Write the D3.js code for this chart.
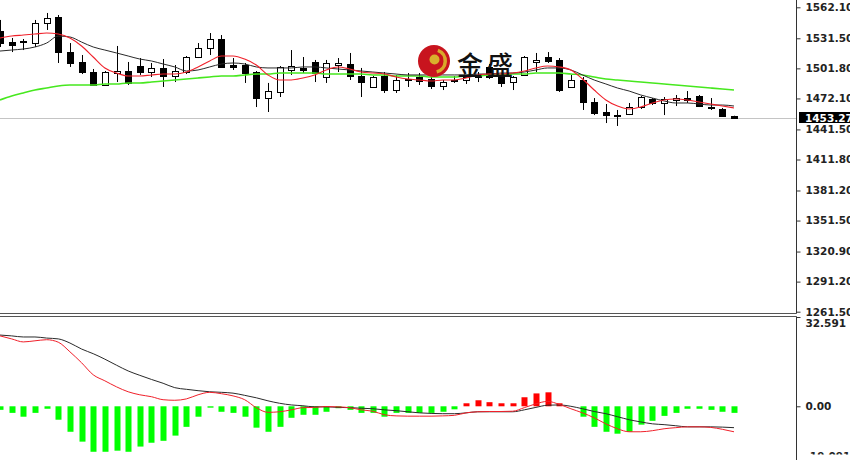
<!DOCTYPE html>
<html><head><meta charset="utf-8">
<script src="https://cdn.jsdelivr.net/npm/d3@7"></script>
<style>html,body{margin:0;padding:0;background:#fff;overflow:hidden}svg{display:block}</style>
</head><body>
<svg id="chart" width="850" height="460"></svg>
<script>
// ---- price candles (bar index 0..63) ----
const openP = [1538.7,1527.8,1527.8,1526.8,1546.6,1552.5,1517.9,1508.1,1498.2,1485.4,1497.2,1499.2,1504.1,1498.2,1502.2,1494.3,1498.2,1513.0,1521.9,1530.8,1505.1,1505.1,1498.2,1472.5,1478.5,1500.2,1502.2,1508.1,1493.3,1505.1,1506.1,1494.3,1483.4,1494.3,1480.4,1490.3,1493.3,1491.3,1484.4,1489.3,1490.3,1493.3,1503.2,1493.3,1488.3,1495.3,1508.1,1513.0,1510.1,1483.4,1490.3,1468.6,1458.7,1455.7,1456.7,1463.6,1471.5,1467.6,1470.6,1472.5,1474.5,1463.6,1461.7,1454.8];
const highP = [1549.6,1531.8,1530.8,1549.6,1556.5,1554.5,1526.8,1515.0,1501.2,1499.2,1523.9,1508.1,1512.0,1507.1,1511.0,1505.1,1514.0,1526.8,1536.7,1534.7,1512.0,1507.1,1499.2,1487.4,1504.1,1519.9,1513.0,1510.1,1510.1,1512.0,1517.0,1502.2,1494.3,1498.2,1495.3,1497.2,1497.2,1493.3,1490.3,1494.3,1495.3,1498.2,1506.1,1497.2,1494.3,1514.0,1517.0,1517.9,1512.0,1495.3,1493.3,1472.5,1466.6,1460.7,1467.6,1474.5,1472.5,1473.5,1475.5,1479.4,1475.5,1472.5,1462.7,1455.0];
const lowP = [1522.9,1517.9,1519.9,1522.9,1539.7,1507.1,1503.2,1496.2,1484.4,1484.4,1488.3,1485.4,1495.3,1493.3,1483.4,1488.3,1496.2,1512.0,1515.0,1502.2,1500.2,1487.4,1463.6,1458.7,1473.5,1495.3,1497.2,1488.3,1487.4,1498.2,1490.3,1473.5,1482.4,1477.5,1477.5,1483.4,1485.4,1481.4,1480.4,1487.4,1486.4,1488.3,1491.3,1483.4,1480.4,1494.3,1498.2,1507.1,1478.5,1482.4,1460.7,1455.7,1447.8,1444.9,1455.7,1461.7,1465.6,1455.7,1464.6,1467.6,1463.6,1460.7,1453.8,1452.8];
const closeP = [1526.8,1524.9,1528.8,1546.6,1551.5,1517.9,1507.1,1498.2,1485.4,1498.2,1499.2,1487.4,1498.2,1502.2,1494.3,1499.2,1513.0,1521.9,1530.8,1503.2,1503.2,1497.2,1472.5,1479.4,1503.2,1504.1,1500.2,1497.2,1507.1,1507.1,1494.3,1488.3,1493.3,1480.4,1490.3,1491.3,1489.3,1484.4,1488.3,1490.3,1493.3,1495.3,1493.3,1487.4,1493.3,1513.0,1510.1,1509.1,1480.4,1490.3,1468.6,1457.7,1455.7,1454.8,1463.6,1473.5,1467.6,1471.5,1472.5,1470.6,1464.6,1462.7,1454.8,1453.27];

// ---- moving averages ----
const maFast = [1531.8,1533.7,1534.7,1535.7,1536.7,1535.7,1531.8,1523.9,1513.0,1502.2,1497.2,1494.3,1494.3,1495.3,1496.2,1496.2,1498.2,1503.2,1509.1,1514.0,1514.0,1511.0,1505.1,1495.3,1490.3,1490.3,1492.3,1495.3,1500.2,1503.2,1501.2,1498.2,1497.2,1496.2,1493.3,1491.3,1490.3,1489.3,1490.3,1490.3,1492.3,1495.3,1496.2,1496.2,1497.2,1499.2,1502.2,1504.1,1503.2,1500.2,1491.3,1480.4,1470.6,1464.6,1461.7,1463.6,1467.6,1470.6,1471.5,1470.6,1468.6,1466.6,1464.6,1462.7];
const maMid = [1518.9,1519.9,1520.9,1522.9,1526.8,1533.7,1532.8,1527.8,1522.9,1519.9,1517.0,1514.0,1511.0,1509.1,1506.1,1503.2,1499.2,1500.2,1503.2,1506.1,1507.1,1506.1,1503.2,1502.2,1502.2,1502.2,1503.2,1503.2,1502.2,1501.2,1500.2,1499.2,1498.2,1497.2,1496.2,1495.3,1495.3,1495.3,1495.3,1495.3,1495.3,1496.2,1496.2,1497.2,1497.2,1498.2,1500.2,1502.2,1502.2,1500.2,1495.3,1490.3,1486.4,1482.4,1479.4,1475.5,1472.5,1469.6,1467.6,1467.6,1466.6,1465.6,1465.6,1464.6];
const maSlow = [1470.6,1474.5,1477.5,1480.4,1482.4,1484.4,1485.4,1485.4,1485.4,1486.4,1486.4,1487.4,1487.4,1488.3,1489.3,1490.3,1491.3,1492.3,1493.3,1494.3,1494.3,1495.3,1496.2,1496.2,1497.2,1497.2,1497.2,1497.2,1496.2,1496.2,1496.2,1496.2,1495.3,1495.3,1494.3,1494.3,1494.3,1493.3,1493.3,1493.3,1494.3,1494.3,1495.3,1495.3,1496.2,1496.2,1497.2,1497.2,1497.2,1496.2,1495.3,1493.3,1491.3,1490.3,1489.3,1488.3,1487.4,1486.4,1485.4,1484.4,1483.4,1482.4,1481.4,1480.4];

// ---- MACD panel ----
const macdHist = [-1.3,-2.4,-3.8,-2.4,-0.9,-4.9,-9.3,-12.9,-16.6,-16.6,-16.2,-16.6,-14.7,-13.3,-12.6,-10.7,-7.5,-3.8,-0.5,-2.0,-2.4,-3.8,-7.8,-9.3,-7.5,-4.2,-3.1,-3.1,-2.0,-0.7,-1.3,-2.4,-2.4,-3.8,-2.4,-2.4,-2.4,-2.4,-2.0,-1.1,1.1,2.2,1.5,1.1,1.1,3.3,4.7,5.1,1.1,0.0,-3.8,-7.5,-9.3,-10.0,-9.3,-6.7,-5.3,-3.5,-2.4,-0.9,-0.9,-1.3,-2.0,-2.4];
const macdBlack = [26.0,25.7,25.3,25.3,24.9,24.6,23.1,20.9,19.2,17.2,15.0,12.9,11.3,9.8,8.4,6.8,6.2,5.7,5.3,5.1,4.8,4.0,3.1,2.0,1.1,0.5,0.2,-0.2,-0.2,-0.4,-0.5,-0.7,-0.9,-1.3,-1.6,-2.0,-2.4,-2.6,-2.7,-2.7,-2.4,-2.0,-2.0,-2.0,-2.0,-1.3,-0.4,0.4,0.5,0.0,-0.9,-1.9,-2.7,-3.8,-4.9,-5.7,-6.4,-6.7,-7.1,-7.5,-7.5,-7.5,-7.6,-7.8];
const macdRed = [25.7,24.6,23.5,23.9,24.3,23.4,19.9,15.9,11.5,9.3,7.1,5.3,4.2,3.5,2.4,2.2,2.7,4.2,5.1,4.6,3.8,2.4,-0.5,-2.2,-2.0,-1.3,-0.5,-0.4,-0.1,-0.2,-0.5,-1.3,-1.8,-3.1,-3.5,-3.6,-3.6,-3.6,-3.5,-3.3,-2.4,-2.0,-1.9,-1.9,-1.8,-0.5,0.9,1.8,0.7,-0.9,-2.4,-4.2,-6.4,-8.2,-9.3,-9.3,-8.9,-8.2,-7.8,-7.5,-7.5,-7.7,-8.4,-9.3];

// ---- axis ticks ----
const priceTicks = [1562.10,1531.50,1501.80,1472.10,1441.50,1411.80,1381.20,1351.50,1320.90,1291.20,1261.50];
const priceTickLabels = ["1562.10","1531.50","1501.80","1472.10","1441.50","1411.80","1381.20","1351.50","1320.90","1291.20","1261.50"];
const macdTicks = [32.591, 0, -19.091];
const macdTickLabels = ["32.591","0.00","-19.091"];
const lastPriceLabel = "1453.27";
const logoText = "金盛";

const barIdx = openP.map((d,i)=>i);

const svg = d3.select('#chart');
const axisX = 796.5;
const defs = svg.append('defs');
defs.append('clipPath').attr('id','clipMain').append('rect').attr('x',0).attr('y',0).attr('width',796).attr('height',313);
defs.append('clipPath').attr('id','clipMacd').append('rect').attr('x',0).attr('y',317).attr('width',796).attr('height',143);
defs.append('clipPath').attr('id','clipMacdAxis').append('rect').attr('x',0).attr('y',300).attr('width',60).attr('height',154.5);

const x = d3.scaleLinear().domain([0, barIdx.length-1]).range([0, 734]);
const y = d3.scaleLinear().domain([1261.5, 1562.1]).range([311.7, 7.3]);
const ym = d3.scaleLinear().domain([-19.091, 32.591]).range([458.6, 317]);
const px = i => Math.round(x(i));

// ---- main panel ----
const main = svg.append('g').attr('clip-path','url(#clipMain)');
const lastY = Math.round(y(closeP[closeP.length-1]));
main.append('line').attr('x1',0).attr('x2',796).attr('y1',lastY+0.5).attr('y2',lastY+0.5)
  .attr('stroke','#c4c4c4').attr('stroke-width',1);

main.append('g').selectAll('line').data(barIdx).join('line')
  .attr('x1',i=>px(i)+0.5).attr('x2',i=>px(i)+0.5)
  .attr('y1',i=>y(highP[i])).attr('y2',i=>y(lowP[i]))
  .attr('stroke','#000').attr('stroke-width',1);
main.append('g').selectAll('rect').data(barIdx).join('rect')
  .attr('x',i=>px(i)-2.5).attr('width',6)
  .attr('y',i=>Math.round(y(Math.max(openP[i],closeP[i])))+0.5)
  .attr('height',i=>Math.max(1, Math.round(y(Math.min(openP[i],closeP[i]))) - Math.round(y(Math.max(openP[i],closeP[i])))))
  .attr('fill',i=>closeP[i] < openP[i] ? '#000' : '#fff')
  .attr('stroke','#000').attr('stroke-width',1);

const lineP = d3.line().x((d,i)=>x(i)).y(d=>y(d)).curve(d3.curveMonotoneX);
main.append('path').datum(maSlow).attr('d',lineP).attr('fill','none').attr('stroke','#46e81e').attr('stroke-width',1.6);
main.append('path').datum(maMid).attr('d',lineP).attr('fill','none').attr('stroke','#2a2a2a').attr('stroke-width',1);
main.append('path').datum(maFast).attr('d',lineP).attr('fill','none').attr('stroke','#f0202a').attr('stroke-width',1.1);

// logo watermark
const logo = svg.append('g');
logo.append('circle').attr('cx',434).attr('cy',61).attr('r',16).attr('fill','#c8141e');
const arc = d3.arc().innerRadius(9.5).outerRadius(13).startAngle(0.35).endAngle(2.9);
logo.append('path').attr('d',arc()).attr('transform','translate(434,61)').attr('fill','#d9a92a');
logo.append('circle').attr('cx',434.5).attr('cy',59.5).attr('r',5).attr('fill','#d9b02c');
logo.append('text').attr('x',457).attr('y',75).text(logoText)
  .attr('font-family','"Noto Sans CJK SC","Noto Sans CJK JP",sans-serif').attr('font-size',26).attr('font-weight',500)
  .attr('letter-spacing',4).attr('fill','#111');

// ---- MACD panel ----
const sub = svg.append('g').attr('clip-path','url(#clipMacd)');
const zeroY = ym(0);
sub.append('g').selectAll('rect').data(barIdx).join('rect')
  .attr('x',i=>px(i)-2.5).attr('width',6)
  .attr('y',i=> macdHist[i] >= 0 ? ym(macdHist[i]) : zeroY)
  .attr('height',i=> Math.abs(ym(macdHist[i]) - zeroY))
  .attr('fill',i=> macdHist[i] >= 0 ? '#ff0000' : '#00ff00');
const lineM = d3.line().x((d,i)=>x(i)).y(d=>ym(d)).curve(d3.curveMonotoneX);
sub.append('path').datum(macdBlack).attr('d',lineM).attr('fill','none').attr('stroke','#2a2a2a').attr('stroke-width',1);
sub.append('path').datum(macdRed).attr('d',lineM).attr('fill','none').attr('stroke','#f0202a').attr('stroke-width',1);

// ---- separators and axes ----
svg.append('line').attr('x1',0).attr('x2',axisX).attr('y1',313.5).attr('y2',313.5).attr('stroke','#555');
svg.append('line').attr('x1',0).attr('x2',axisX).attr('y1',316.5).attr('y2',316.5).attr('stroke','#555');
svg.append('line').attr('x1',axisX).attr('x2',axisX).attr('y1',0).attr('y2',313.5).attr('stroke','#333');
svg.append('line').attr('x1',axisX).attr('x2',axisX).attr('y1',316.5).attr('y2',460).attr('stroke','#333');

const fontAxis = g => g.selectAll('text')
  .attr('font-family','"DejaVu Sans",Verdana,sans-serif').attr('font-size','10.5px').attr('font-weight','bold').attr('fill','#222');

const pAxis = svg.append('g').attr('transform',`translate(${axisX},0)`)
  .call(d3.axisRight(y).tickValues(priceTicks).tickSize(4).tickPadding(5).tickFormat((d,i)=>priceTickLabels[i]));
pAxis.select('.domain').remove();
pAxis.selectAll('line').attr('stroke','#333');
pAxis.call(fontAxis);

const mAxis = svg.append('g').attr('transform',`translate(${axisX},0)`).attr('clip-path','url(#clipMacdAxis)')
  .call(d3.axisRight(ym).tickValues(macdTicks).tickSize(4).tickPadding(5).tickFormat((d,i)=>macdTickLabels[i]));
mAxis.select('.domain').remove();
mAxis.selectAll('line').attr('stroke','#333');
mAxis.call(fontAxis);
mAxis.selectAll('.tick text').attr('dy',(d,i)=> i===0 ? '0.9em' : (i===2 ? '0.05em' : '0.32em'));

// last price marker
svg.append('rect').attr('x',799).attr('y',lastY-6).attr('width',51).attr('height',11).attr('fill','#000');
svg.append('text').attr('x',805).attr('y',lastY).attr('dy','0.34em').text(lastPriceLabel)
  .attr('font-family','"DejaVu Sans",Verdana,sans-serif').attr('font-size','10.5px').attr('font-weight','bold').attr('fill','#fff');
</script>
</body></html>
